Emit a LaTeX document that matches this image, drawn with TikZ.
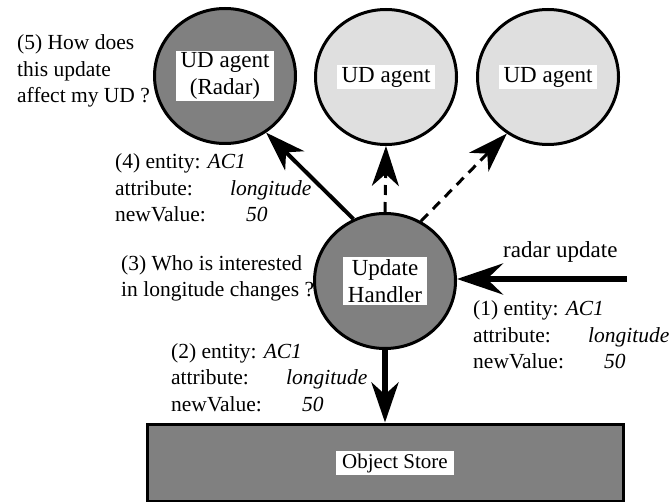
\documentclass[tikz,border=0pt]{standalone}
\usepackage{fontspec}
\setmainfont{Liberation Serif}
\usetikzlibrary{arrows.meta,positioning,shapes.geometric}

\tikzset{
	agent/.style={ellipse,draw,line width=3pt,inner sep=0pt,minimum width=141pt,minimum height=135pt},
	tag/.style={fill=white,inner xsep=5pt,inner ysep=2pt,align=center,font=\fontsize{23}{27}\selectfont},
	note/.style={inner sep=0pt,anchor=base west,align=left,font=\fontsize{21.5}{26.5}\selectfont},
	head/.style={-{Stealth[length=40pt,width=27pt,inset=12pt]}},
}
\newcommand{\updmsg}[1]{(#1) entity: \textit{AC1}\\\makebox[115pt][l]{attribute:}\textit{longitude}\\\makebox[131pt][l]{newValue:}\textit{50}}

\begin{document}
\begin{tikzpicture}[x=1pt,y=-1pt]
		\useasboundingbox (0,0) rectangle (669,502);
		% agents
		\node[agent,fill=gray] (radar) at (225,76) {};
		\node[agent,fill=gray!25] (mid) at (386,77) {};
		\node[agent,fill=gray!25] (right) at (548,77) {};
		\node[agent,fill=gray] (handler) at (385,281) {};
		\node[tag] at (radar) {UD agent\\(Radar)};
		\node[tag] at (mid) {UD agent};
		\node[tag] at (right) {UD agent};
		\node[tag] at (handler) {Update\\Handler};
		% store
		\node[draw,line width=3pt,fill=gray,minimum width=476pt,minimum height=77pt,inner sep=0pt] (store) at (385,462.5) {};
		\node[tag,font=\fontsize{21}{25}\selectfont,inner xsep=6pt] at (395,463) {Object Store};
		\coordinate (feed) at (627,279);
		% messages
		\draw[head,line width=4pt] (handler.117) -- (radar.-54);
		\draw[head,line width=3pt,dash pattern=on 10pt off 7pt] (handler.north) -- (mid.south);
		\draw[head,line width=3pt,dash pattern=on 10pt off 7pt] (handler.59) -- (right.234);
		\draw[-{Stealth[length=46pt,width=31pt,inset=16pt]},line width=6pt] (feed) -- (feed -| handler.east);
		\draw[head,line width=5.5pt] (handler.south) -- (handler.south |- store.north);
		% notes (placed at the baseline of their last line)
		\node[note] (q5) at (17,103) {(5) How does\\this update\\affect my UD ?};
		\node[note] (m4) at (115,222) {\updmsg{4}};
		\node[note] (q3) at (121,297) {(3) Who is interested\\in longitude changes ?};
		\node[note] (m2) at (171,411) {\updmsg{2}};
		\node[note] (m1) at (473,369) {\updmsg{1}};
		\node[note,font=\fontsize{23}{27}\selectfont] (feedlbl) at (503,258) {radar update};
	\end{tikzpicture}
\end{document}
